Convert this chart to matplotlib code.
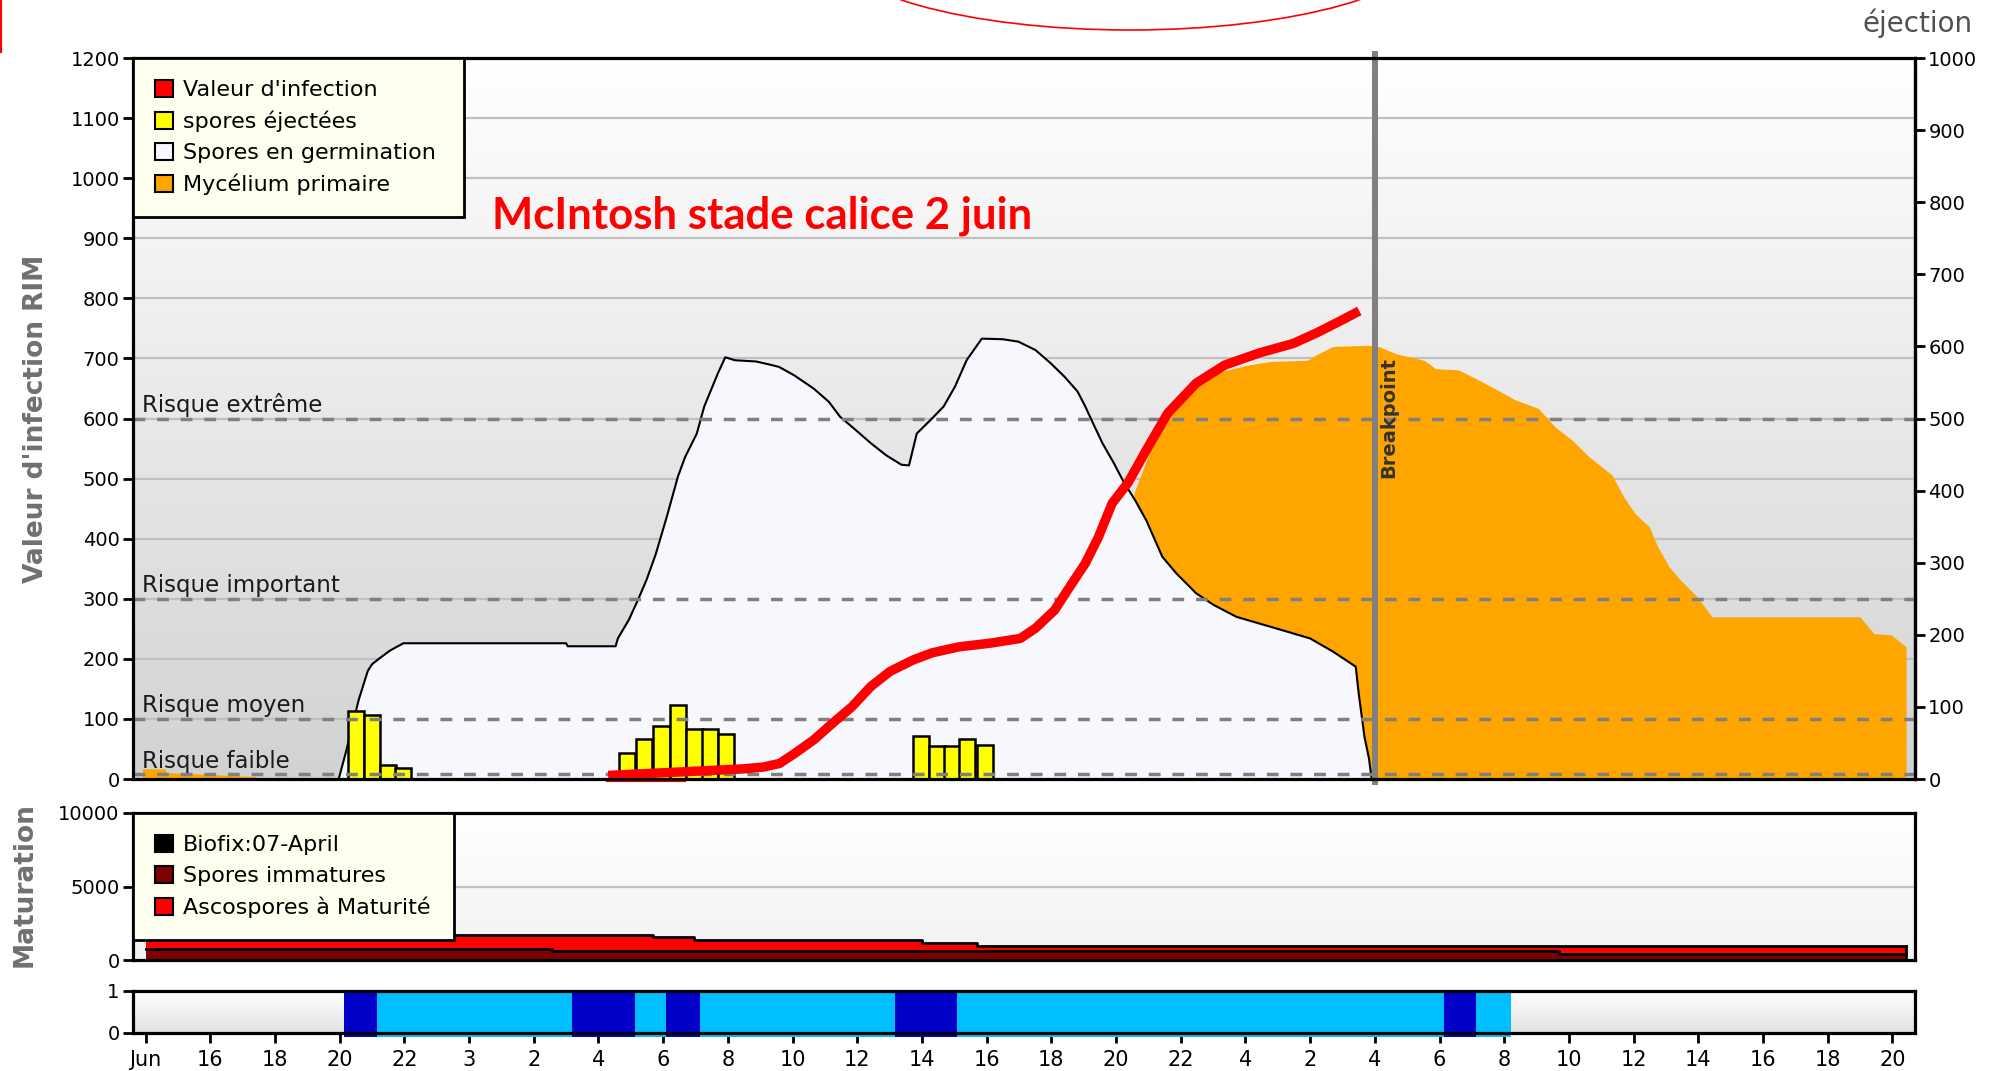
import matplotlib.pyplot as plt
import numpy as np
from matplotlib.patches import Patch, Ellipse
from matplotlib.lines import Line2D
from matplotlib.colors import LinearSegmentedColormap

# Axe du temps (heures) : un repère toutes les 2 heures
tick_hours = list(range(14, 70, 2))
tick_labels = ['Jun', '16', '18', '20', '22', '3', '2', '4', '6', '8', '10', '12',
               '14', '16', '18', '20', '22', '4', '2', '4', '6', '8', '10', '12',
               '14', '16', '18', '20']

# Spores en germination (aire blanche)
germ_h = [19.97, 20.18, 20.59, 20.87, 21.0, 21.21, 21.56, 21.97, 27.0, 27.05, 28.53,
          28.6, 28.94, 29.22, 29.49, 29.77, 30.11, 30.46, 30.68, 31.04, 31.27, 31.69,
          31.92, 32.22, 32.87, 33.28, 33.58, 34.05, 34.65, 35.12, 35.47, 35.95, 36.42,
          36.89, 37.37, 37.6, 37.84, 38.31, 38.67, 39.02, 39.38, 39.85, 40.5, 40.98,
          41.51, 41.98, 42.4, 42.81, 43.05, 43.29, 43.58, 43.94, 44.23, 44.59, 44.94,
          45.43, 45.87, 46.48, 47.01, 47.72, 48.42, 49.12, 50.0, 50.71, 51.41, 51.5,
          51.68, 51.82, 51.9]
germ_v = [0, 42, 132, 180, 191, 200, 214, 226, 226, 221, 221,
          234, 265, 298, 332, 374, 436, 504, 536, 575, 620, 675,
          702, 697, 695, 690, 686, 672, 650, 628, 603, 581, 559,
          539, 523, 522, 575, 600, 620, 653, 697, 733, 732, 728,
          714, 692, 670, 645, 620, 592, 559, 525, 495, 464, 430,
          370, 342, 309, 290, 270, 259, 248, 234, 212, 187, 143,
          70, 34, 0]

# Mycélium primaire (aire orange)
myc_h = [13.9, 14.6, 14.65, 15.0, 15.5, 16.2, 17.0, 17.4, 17.45, 44.0, 44.55, 45.25,
         46.13, 47.01, 48.07, 48.77, 49.92, 50.18, 50.71, 51.76, 52.12, 52.65, 53.52,
         53.88, 54.58, 55.11, 55.81, 56.34, 57.05, 57.57, 58.1, 58.63, 59.33, 59.69,
         60.04, 60.48, 60.74, 61.1, 61.45, 61.97, 62.42, 66.99, 67.43, 67.96, 68.42]
myc_v = [17, 17, 11, 10, 9, 7, 5, 4, 0, 0, 475, 575,
         642, 675, 689, 695, 697, 706, 720, 722, 720, 708, 697,
         683, 681, 667, 647, 631, 617, 586, 564, 536, 506, 470,
         442, 420, 387, 353, 331, 303, 270, 270, 242, 240, 220]

# Valeur d'infection (ligne rouge)
inf_h = [28.3, 30.6, 32.5, 33.1, 33.6, 34.05, 34.65, 35.24, 35.83, 36.42, 37.01, 37.72,
         38.31, 39.14, 40.09, 41.04, 41.51, 42.1, 42.57, 43.05, 43.45, 43.88, 44.37,
         44.94, 45.6, 46.48, 47.36, 48.42, 49.48, 50.18, 50.88, 51.52]
inf_v = [6, 12, 17, 20, 26, 42, 65, 93, 120, 154, 179, 198,
         210, 220, 226, 234, 251, 281, 320, 359, 402, 459, 493,
         548, 609, 659, 689, 709, 725, 742, 761, 779]
inf_low_h = [28.25, 30.68]
inf_low_v = [-4, -4]

# Spores éjectées (barres jaunes)
ej_h = [20.5, 21.0, 21.5, 21.95, 28.87, 29.41, 29.95, 30.47, 30.97, 31.45, 31.95,
        37.96, 38.47, 38.93, 39.4, 39.95]
ej_v = [113, 107, 23, 19, 43, 66, 89, 123, 84, 84, 75, 72, 55, 55, 66, 57]

# Seuils de risque
risk_levels = [600, 300, 100, 8]
risk_labels = ['Risque extrême', 'Risque important', 'Risque moyen', 'Risque faible']
breakpoint_h = 52

# Maturation (marches)
mat_edges = [14, 26.55, 29.70, 30.94, 38.01, 39.70, 57.70, 68.42]
immatures = [771, 590, 590, 590, 590, 590, 420]
matures = [952, 1133, 952, 748, 544, 362, 532]

# Humectation (bande du bas)
wet_start = [20.13, 21.17, 27.19, 29.12, 30.08, 31.13, 37.18, 39.09, 54.14, 55.12]
wet_end = [21.17, 27.19, 29.12, 30.08, 31.13, 37.18, 39.09, 54.14, 55.12, 56.22]
wet_level = [2, 1, 2, 1, 2, 1, 2, 1, 2, 1]

XMIN, XMAX = 13.61, 68.70
TXT = '#1a1a1a'

fig = plt.figure(figsize=(19.93, 10.71), dpi=100)
ax = fig.add_axes([0.0667, 0.2726, 0.8942, 0.6732])
axm = fig.add_axes([0.0667, 0.1036, 0.8942, 0.1373], sharex=ax)
axb = fig.add_axes([0.0667, 0.0355, 0.8942, 0.0392], sharex=ax)


def gradient(a, bottom_col, ymax):
    cmap = LinearSegmentedColormap.from_list('g', [bottom_col, '#ffffff'])
    a.imshow(np.linspace(0, 1, 256).reshape(-1, 1), extent=[XMIN, XMAX, 0, ymax],
             origin='lower', aspect='auto', cmap=cmap, zorder=0, interpolation='bicubic')


for a in (ax, axm, axb):
    for s in a.spines.values():
        s.set_linewidth(2.3)
        s.set_color('black')
        s.set_zorder(8)

# ---- panneau principal ----
gradient(ax, '#d2d2d2', 1200)
for v in range(100, 1200, 100):
    ax.axhline(v, color='#c0c0c0', lw=1.6, zorder=0.5)

ax.fill_between(myc_h, myc_v, 0, color='#ffa500', lw=0, zorder=1)
ax.fill_between(germ_h, germ_v, 0, color='#f7f8fd', lw=0, zorder=2)
ax.plot(germ_h, germ_v, color='black', lw=1.5, zorder=2.5)
ax.bar(ej_h, ej_v, width=0.5, color='#ffff00', edgecolor='black', lw=1.8, zorder=3)

for lvl, lab in zip(risk_levels, risk_labels):
    ax.axhline(lvl, color='#808080', lw=2.5, linestyle=(0, (3.4, 3.4)), zorder=4)
    ax.text(0.005, lvl + 11, lab, transform=ax.get_yaxis_transform(), fontsize=16.5,
            color=TXT, va='baseline', ha='left', zorder=7)

ax.plot(inf_h, inf_v, color='#ff0000', lw=6.8, zorder=5, solid_capstyle='butt')
ax.plot(inf_low_h, inf_low_v, color='#ff0000', lw=1.6, zorder=5, clip_on=False)

ax.axvline(breakpoint_h, ymin=-0.004, ymax=1.006, color='#808080', lw=4.3,
           zorder=6, clip_on=False)
ax.text(breakpoint_h + 0.42, 601, 'Breakpoint', rotation=90, fontsize=14,
        fontweight='bold', color='#333333', ha='center', va='center', zorder=7)

ax.text(0.2015, 0.781, 'McIntosh stade calice 2 juin', transform=ax.transAxes,
        fontsize=31.5, fontweight='bold', family='Lato', color='#ff0000',
        ha='left', va='center', zorder=7)

ax.set_xlim(XMIN, XMAX)
ax.set_ylim(0, 1200)
ax.set_yticks(range(0, 1201, 100))
ax.tick_params(axis='y', direction='out', length=7, width=2, labelsize=14, pad=2.5,
               colors='black')
ax.tick_params(axis='x', bottom=False, labelbottom=False)

sec = ax.secondary_yaxis('right', functions=(lambda v: v / 1.2, lambda v: v * 1.2))
sec.set_yticks(range(0, 1001, 100))
sec.tick_params(direction='out', length=7, width=2, labelsize=14, pad=2.5)
sec.spines['right'].set_linewidth(2.3)

legend_style = dict(loc='upper left', mode='expand', borderaxespad=0,
                    fontsize=16, frameon=True, fancybox=False, edgecolor='black',
                    facecolor='#fffff0', framealpha=1, handlelength=0.8,
                    handleheight=0.8, handletextpad=0.45, labelspacing=0.47,
                    borderpad=1.0)

top_handles = [
    Patch(facecolor='#ff0000', edgecolor='black', lw=1.5, label="Valeur d'infection"),
    Patch(facecolor='#ffff00', edgecolor='black', lw=1.5, label='spores éjectées'),
    Patch(facecolor='#f7f8fd', edgecolor='black', lw=1.5, label='Spores en germination'),
    Patch(facecolor='#ffa500', edgecolor='black', lw=1.5, label='Mycélium primaire'),
]
leg = ax.legend(handles=top_handles, bbox_to_anchor=(0, 0, 0.1857, 1), **legend_style)
leg.get_frame().set_linewidth(2)
leg.set_zorder(10)

# ---- maturation ----
gradient(axm, '#f2f2f2', 10000)
axm.axhline(5000, color='#c0c0c0', lw=1.6, zorder=0.5)
imm_step = immatures + [immatures[-1]]
tot_step = [i + m for i, m in zip(immatures, matures)]
tot_step = tot_step + [tot_step[-1]]
axm.fill_between(mat_edges, tot_step, 0, step='post', color='#ff0000', lw=0, zorder=2)
axm.fill_between(mat_edges, imm_step, 0, step='post', color='#800000', lw=0, zorder=3)
axm.step(mat_edges, tot_step, where='post', color='black', lw=2, zorder=4)
axm.step(mat_edges, imm_step, where='post', color='black', lw=2, zorder=4)
axm.plot([mat_edges[-1], mat_edges[-1]], [0, tot_step[-1]], color='black', lw=2, zorder=4)
axm.set_ylim(0, 10000)
axm.set_yticks([0, 5000, 10000])
axm.tick_params(axis='y', direction='out', length=7, width=2, labelsize=14, pad=2.5)
axm.tick_params(axis='x', bottom=False, labelbottom=False)

mat_handles = [
    Patch(facecolor='black', edgecolor='black', lw=1.5, label='Biofix:07-April'),
    Patch(facecolor='#800000', edgecolor='black', lw=1.5, label='Spores immatures'),
    Patch(facecolor='#ff0000', edgecolor='black', lw=1.5, label='Ascospores à Maturité'),
]
leg2 = axm.legend(handles=mat_handles, bbox_to_anchor=(0, 0, 0.1801, 1), **legend_style)
leg2.get_frame().set_linewidth(2)
leg2.set_zorder(10)

# ---- humectation ----
gradient(axb, '#e2e2e2', 1)
level_colors = {1: '#00bfff', 2: '#0000c8'}
axb.bar(wet_start, [1.1] * len(wet_start),
        width=[e - s for s, e in zip(wet_start, wet_end)], bottom=-0.1, align='edge',
        color=[level_colors[k] for k in wet_level], lw=0, zorder=2, clip_on=False)
axb.set_ylim(0, 1)
axb.set_yticks([0, 1])
axb.tick_params(axis='y', direction='out', length=7, width=2, labelsize=14, pad=2.5)
axb.set_xticks(tick_hours)
axb.set_xticklabels(tick_labels)
axb.tick_params(axis='x', direction='out', length=7, width=2, labelsize=15, pad=5)
axb.set_xlim(XMIN, XMAX)

# ---- textes et annotations de la figure ----
fig.text(0.0179, 0.609, "Valeur d'infection RIM", rotation=90, fontsize=19,
         fontweight='bold', color='#707070', ha='center', va='center')
fig.text(0.0125, 0.1737, 'Maturation', rotation=90, fontsize=19,
         fontweight='bold', color='#707070', ha='center', va='center')
fig.text(0.990, 1 - 23 / 1071, 'éjection', fontsize=20, color='#505050',
         ha='right', va='center')
fig.add_artist(Ellipse((1130 / 1993, 1 + 55 / 1071), 600 / 1993, 170 / 1071,
                       transform=fig.transFigure, fill=False, edgecolor='#ff0000', lw=1.2))
fig.add_artist(Line2D([0.0006, 0.0006], [1, 1 - 52 / 1071], transform=fig.transFigure,
                      color='#ff0000', lw=1.5))

fig.savefig('out.png', dpi=100)
